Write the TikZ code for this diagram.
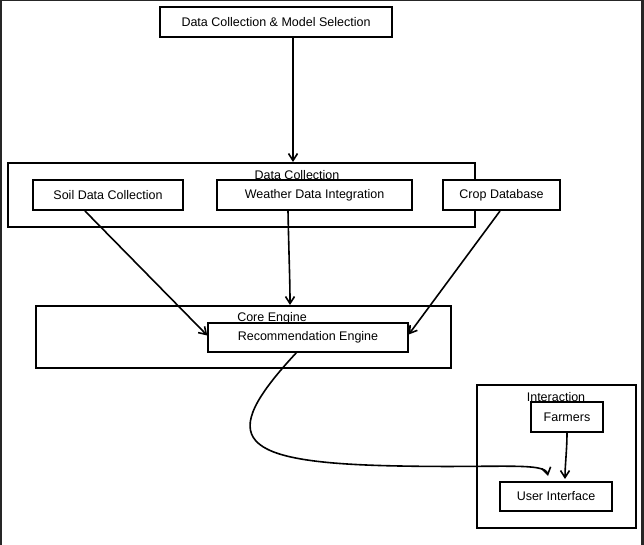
\documentclass[tikz,border=0pt]{standalone}
\usepackage{fontspec}
\setmainfont{Liberation Sans}
\usetikzlibrary{arrows.meta}
\begin{document}
\begin{tikzpicture}[x=1pt,y=-1pt,
  box/.style={draw,line width=1.4pt,fill=white,inner sep=0pt,font=\fontsize{12.5}{14}\selectfont},
  group/.style={draw,line width=1.4pt,inner sep=0pt},
  glabel/.style={inner sep=0pt,font=\fontsize{12.5}{14}\selectfont},
  conn/.style={line width=1.6pt,-{Straight Barb[length=7pt,width=9pt]}}]
\fill[black!85] (0,0) rectangle (644,545);
\fill[white] (2,1) rectangle (641,545);
\useasboundingbox (0,0) rectangle (644,545);
% groups
\node[group,minimum width=467pt,minimum height=64pt] (dc) at (241.5,195) {};
\node[glabel] (dcl) at (297,175) {Data Collection};
\node[group,minimum width=415pt,minimum height=62pt] (core) at (243.5,337) {};
\node[glabel] (corel) at (272,318) {Core Engine};
\node[group,minimum width=159pt,minimum height=143pt] (inter) at (556.5,456.5) {};
\node[glabel] (interl) at (556,397) {Interaction};
% nodes
\node[box,minimum width=232pt,minimum height=30pt] (top) at (276,22) {Data Collection \& Model Selection};
\node[box,minimum width=150pt,minimum height=30pt] (soil) at (108,195) {Soil Data Collection};
\node[box,minimum width=195pt,minimum height=30pt] (weather) at (314.5,195) {Weather Data Integration};
\node[box,minimum width=117pt,minimum height=30pt] (crop) at (501.5,195) {Crop Database};
\node[box,minimum width=200pt,minimum height=29pt] (rec) at (308,337.5) {Recommendation Engine};
\node[box,minimum width=72pt,minimum height=30pt] (farm) at (567,417) {Farmers};
\node[box,minimum width=112pt,minimum height=29pt] (ui) at (556,496.5) {User Interface};
% connectors
\coordinate (dctop) at (293,162);
\draw[conn] (top.south -| dctop) -- (dctop);
\coordinate (s1) at (85,211);
\coordinate (w1) at (288,211);
\coordinate (c1) at (500,211);
\coordinate (coretop) at (290,305);
\draw[conn] (s1) -- ([yshift=2pt]rec.west);
\draw[conn] (w1) .. controls (289,260) and (290,280) .. (coretop);
\draw[conn] (c1) -- ([yshift=3pt]rec.east);
\coordinate (r1) at (297,352);
\coordinate (u1) at (548,476);
\draw[conn] (r1) .. controls (215,440) and (235,463) .. (400,466) .. controls (500,468) and (545,462) .. (u1);
\coordinate (f1) at (567,432);
\coordinate (u2) at (565,479);
\draw[conn] (f1) .. controls (567,450) and (565,465) .. (u2);
\end{tikzpicture}
\end{document}
